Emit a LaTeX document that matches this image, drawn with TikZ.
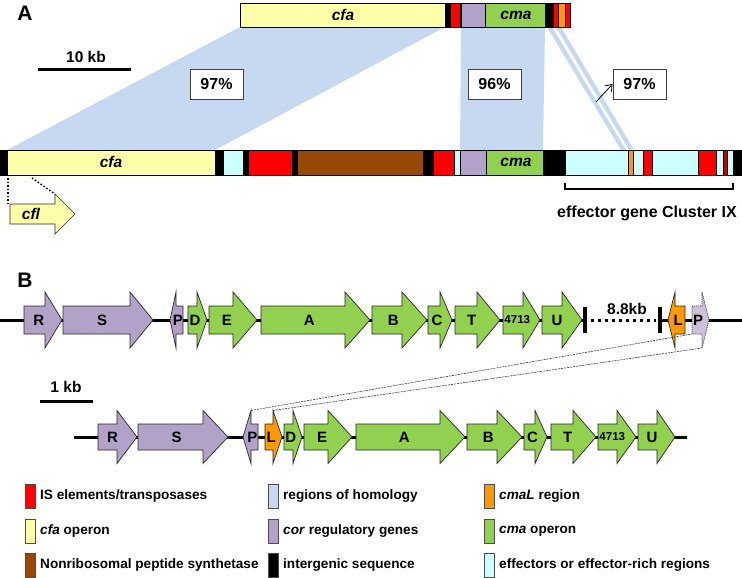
\documentclass[tikz,border=0pt]{standalone}
\usepackage{fontspec}
\setmainfont{Liberation Sans}
\usetikzlibrary{arrows.meta}
\definecolor{cfaY}{RGB}{255,255,170}
\definecolor{isR}{RGB}{255,0,0}
\definecolor{corP}{RGB}{179,162,199}
\definecolor{corPL}{RGB}{204,192,218}
\definecolor{cmaG}{RGB}{146,208,80}
\definecolor{nrpsB}{RGB}{152,72,7}
\definecolor{effC}{RGB}{204,255,255}
\definecolor{cmaLO}{RGB}{255,153,0}
\definecolor{homB}{RGB}{198,217,241}
\definecolor{dkR}{RGB}{192,0,0}
\newcommand\gh{14}
\newcommand\gH{28}
\newcommand\rgene[7]{%
 \draw[gene,fill=#6] (#2,#5-\gh) -- (#3,#5-\gh) -- (#3,#5-\gH) -- (#4,#5) -- (#3,#5+\gH) -- (#3,#5+\gh) -- (#2,#5+\gh) -- cycle;
 \node[glabel] (#1) at ({(#2+#4)/2-(#4-#3)/4},#5) {#7};}
\newcommand\lgene[7]{%
 \draw[gene,fill=#6] (#4,#5-\gh) -- (#3,#5-\gh) -- (#3,#5-\gH) -- (#2,#5) -- (#3,#5+\gH) -- (#3,#5+\gh) -- (#4,#5+\gh) -- cycle;
 \node[glabel] (#1) at ({(#2+#4)/2+(#3-#2)/4},#5) {#7};}
\tikzset{
 seg/.style={draw=black, line width=0.5pt},
 hom/.style={fill=homB, draw=none},
 pct/.style={draw=black!75, line width=0.9pt, fill=white, minimum width=53pt, minimum height=30pt, inner sep=0pt, font=\bfseries\fontsize{16}{16}\selectfont},
 gene/.style={draw=black!85, line width=0.7pt},
 glabel/.style={inner sep=0pt, font=\bfseries\fontsize{15}{15}\selectfont},
 btext/.style={inner sep=0pt, font=\bfseries\fontsize{15.5}{15.5}\selectfont},
 bartext/.style={inner sep=0pt, font=\bfseries\itshape\fontsize{15.5}{15.5}\selectfont},
 panel/.style={inner sep=0pt, font=\bfseries\fontsize{21}{21}\selectfont},
 legsw/.style={draw=black!70, line width=0.8pt},
 legtext/.style={inner sep=0pt, anchor=west, font=\bfseries\fontsize{13.6}{13.6}\selectfont},
 backbone/.style={line width=3pt, draw=black},
 dotline/.style={line width=1.5pt, dash pattern=on 1.5pt off 2pt},
 link/.style={line width=0.6pt, dash pattern=on 2pt off 1pt, draw=black!80}
}
\begin{document}
\begin{tikzpicture}[x=1pt,y=-1pt]
\useasboundingbox[fill=white] (0,0) rectangle (742,578);
% ---------- Panel A ----------
\node[panel] (pA) at (25,13) {A};
% homology regions
\fill[hom] (240,27) -- (445,27) -- (215,150) -- (7,150) -- cycle;
\fill[hom] (461,27) -- (545,27) -- (543,150) -- (460,150) -- cycle;
\fill[hom] (547,27) -- (552,27) -- (626,150) -- (621,150) -- cycle;
\fill[hom] (556,27) -- (561,27) -- (634,150) -- (629,150) -- cycle;
% top bar
\foreach \a/\b/\c in {240/445/cfaY, 445/450/black, 450/460/isR, 460/461.5/black, 461.5/485/corP, 485/545/cmaG, 545/553/black, 553/558/isR, 558/565/cmaLO, 565/570/isR}
 \filldraw[seg, fill=\c] (\a,3) rectangle (\b,27);
\draw[line width=0.8pt] (240,3) rectangle (570,27);
\node[bartext] (tcfa) at (343,15) {cfa};
\node[bartext] (tcma) at (516,15) {cma};
% bottom bar
\foreach \a/\b/\c in {0/7/black, 7/215/cfaY, 215/223/black, 223/243/effC, 243/248/black, 248/292/isR, 292/297/black, 297/423/nrpsB, 423/433/black, 433/454/isR, 454/460/effC, 460/486/corP, 486/543/cmaG, 543/565/black, 565/628/effC, 628/633/cmaLO, 633/643/effC, 643/652/isR, 652/698/effC, 698/716/isR, 716/723/effC, 723/727/dkR, 727/733/effC, 733/742/black}
 \filldraw[seg, fill=\c] (\a,150) rectangle (\b,175);
\draw[line width=0.8pt] (0,150) rectangle (742,175);
\node[bartext] (bcfa) at (111,162) {cfa};
\node[bartext] (bcma) at (516,162) {cma};
% scale bar
\coordinate (sbA1) at (38,70);
\coordinate (sbA2) at (131,70);
\draw[line width=3pt] (sbA1) -- (sbA2);
\node[btext] (sbAt) at (86,57) {10 kb};
% percent boxes
\node[pct] (p1) at (216.5,84) {97\%};
\node[pct] (p2) at (494.5,84) {96\%};
\node[pct] (p3) at (639.5,84) {97\%};
\coordinate (p3tail) at (596,102);
\draw[line width=0.8pt, -{Straight Barb[length=6pt,width=9pt]}] (p3tail) -- (p3.west);
% cfl
\coordinate (dl1a) at (8,178);
\coordinate (dl1b) at (8,203);
\coordinate (dl2a) at (32,178);
\coordinate (dl2b) at (55,194);
\draw[dotline] (dl1a) -- (dl1b);
\draw[dotline] (dl2a) -- (dl2b);
\draw[gene, fill=cfaY] (10,204) -- (55,204) -- (55,194) -- (75,214) -- (55,234) -- (55,224) -- (10,224) -- cycle;
\node[bartext] (tcfl) at (31,214) {cfl};
% bracket
\coordinate (br1) at (565,183);
\coordinate (br2) at (565,189);
\coordinate (br3) at (733,189);
\coordinate (br4) at (733,183);
\draw[line width=1.5pt] (br1) -- (br2) -- (br3) -- (br4);
\node[btext, font=\bfseries\fontsize{16}{16}\selectfont] (brt) at (647,213) {effector gene Cluster IX};
% ---------- Panel B ----------
\node[panel] (pB) at (25,280) {B};
% row 1
\coordinate (bb1a) at (0,320);
\coordinate (bb1b) at (585,320);
\coordinate (bb1c) at (660,320);
\coordinate (bb1d) at (742,320);
\draw[backbone] (bb1a) -- (bb1b);
\draw[backbone] (bb1c) -- (bb1d);
\draw[line width=3pt, dash pattern=on 3pt off 4pt] (591,320) -- (656,320);
\draw[line width=3.5pt] (585,307) -- (585,333);
\draw[line width=3.5pt] (660,307) -- (660,333);
\node[btext] (t88) at (627,309) {8.8kb};
\rgene{gR1}{24}{45}{62}{320}{corP}{R}
\rgene{gS1}{63}{130}{153}{320}{corP}{S}
\lgene{gP1}{170}{176}{183}{320}{corP}{P}
\rgene{gD1}{188}{197}{207}{320}{cmaG}{D}
\rgene{gE1}{209}{233}{257}{320}{cmaG}{E}
\rgene{gA1}{261}{345}{370}{320}{cmaG}{A}
\rgene{gB1}{372}{402}{427}{320}{cmaG}{B}
\rgene{gC1}{428}{440}{452}{320}{cmaG}{C}
\rgene{gT1}{455}{477}{500}{320}{cmaG}{T}
\rgene{gN1}{503}{523}{540}{320}{cmaG}{\fontsize{11.5}{11.5}\selectfont 4713}
\rgene{gU1}{542}{562}{582}{320}{cmaG}{U}
\lgene{gL1}{668}{675}{685}{320}{cmaLO}{L}
\draw[gene, dash pattern=on 1pt off 1pt, fill=corPL] (692,306) -- (702,306) -- (702,292) -- (709,320) -- (702,348) -- (702,334) -- (692,334) -- cycle;
\node[glabel] (gPd) at (698,320) {P};
% row 2
\renewcommand\gh{13}
\renewcommand\gH{26.5}
\coordinate (sbB1) at (40,401);
\coordinate (sbB2) at (93,401);
\draw[line width=3pt] (sbB1) -- (sbB2);
\node[btext] (sbBt) at (66,387) {1 kb};
\coordinate (bb2a) at (74,437);
\coordinate (bb2b) at (687,437);
\draw[backbone] (bb2a) -- (bb2b);
\rgene{gR2}{98}{117}{137}{437}{corP}{R}
\rgene{gS2}{138}{203}{228}{437}{corP}{S}
\lgene{gP2}{243}{251}{258}{437}{corP}{P}
\rgene{gL2}{265}{273}{282}{437}{cmaLO}{L}
\rgene{gD2}{284}{293}{302}{437}{cmaG}{D}
\rgene{gE2}{304}{328}{352}{437}{cmaG}{E}
\rgene{gA2}{356}{440}{465}{437}{cmaG}{A}
\rgene{gB2}{467}{497}{522}{437}{cmaG}{B}
\rgene{gC2}{524}{535}{547}{437}{cmaG}{C}
\rgene{gT2}{551}{573}{596}{437}{cmaG}{T}
\rgene{gN2}{598}{617}{636}{437}{cmaG}{\fontsize{11.5}{11.5}\selectfont 4713}
\rgene{gU2}{638}{657}{675}{437}{cmaG}{U}
% links between rows
\coordinate (lkA1) at (251,410.5);
\coordinate (lkA2) at (692,334);
\coordinate (lkB1) at (273,410.5);
\coordinate (lkB2) at (702,348);
\draw[link] (lkA1) -- (lkA2);
\draw[link] (lkB1) -- (lkB2);
% ---------- Legend ----------
\foreach \x/\y/\c in {25/496/isR, 25/531/cfaY, 25/565/nrpsB, 268/496/homB, 268/531/corP, 268/565/black, 484/496/cmaLO, 484/531/cmaG, 484/565/effC}
 \filldraw[legsw, fill=\c] (\x,\y-12) rectangle (\x+10,\y+12);
\node[legtext] (lg1) at (40,496) {IS elements/transposases};
\node[legtext] (lg2) at (40,531) {\textit{cfa} operon};
\node[legtext] (lg3) at (40,565) {Nonribosomal peptide synthetase};
\node[legtext] (lg4) at (283,496) {regions of homology};
\node[legtext] (lg5) at (283,531) {\textit{cor} regulatory genes};
\node[legtext] (lg6) at (283,565) {intergenic sequence};
\node[legtext] (lg7) at (499,496) {\textit{cmaL} region};
\node[legtext] (lg8) at (499,531) {\textit{cma} operon};
\node[legtext] (lg9) at (499,565) {effectors or effector-rich regions};
\end{tikzpicture}
\end{document}
